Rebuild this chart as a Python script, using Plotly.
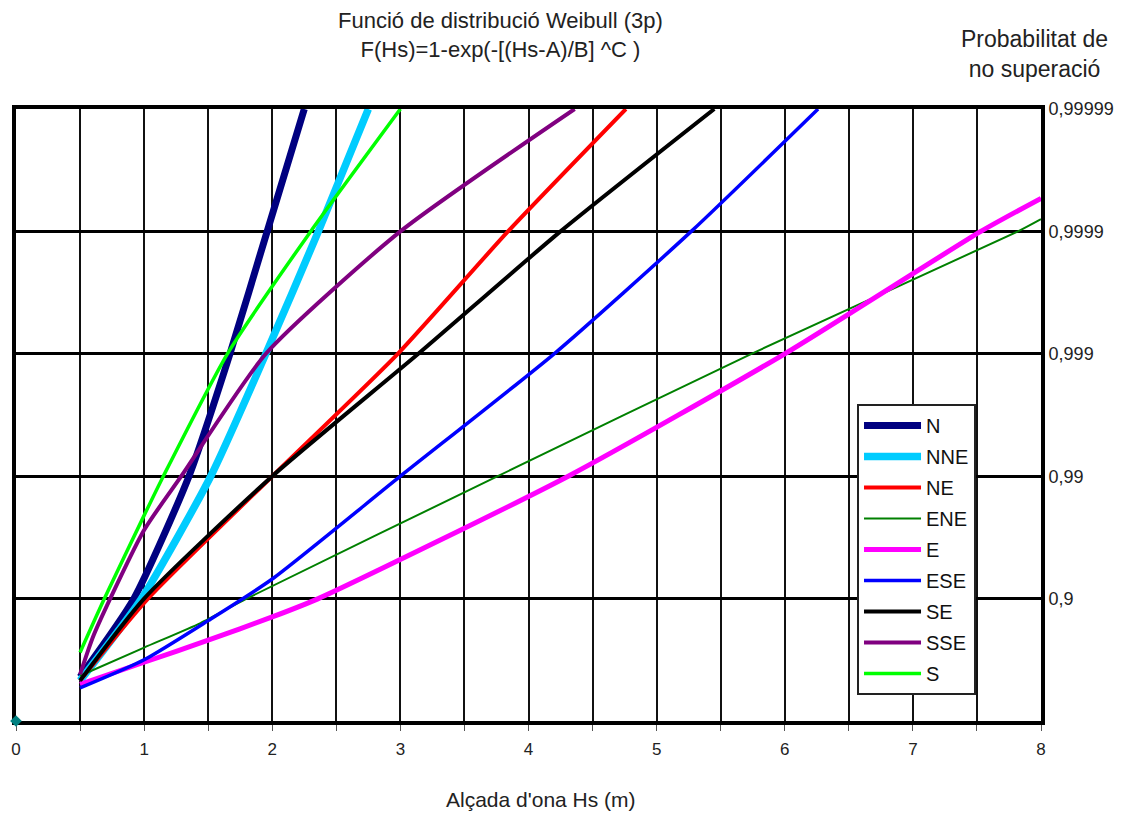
import numpy as np
import plotly.graph_objects as go

# Significant wave height Hs (m) per direction.
# Levels are in "decades" of non-exceedance: level = -log10(1 - F)
names = ["N", "NNE", "NE", "ENE", "E", "ESE", "SE", "SSE", "S"]
colors = ["#000080", "#00CCFF", "#FF0000", "#008000", "#FF00FF", "#0000FF", "#000000", "#800080", "#00FF00"]
widths = [7, 7.5, 4, 2, 5, 3.5, 4, 4, 3.5]

hs_N = [0.5, 0.92, 1.35, 1.67, 1.96, 2.25]
lv_N = [0.36, 1.0, 2.0, 3.0, 4.0, 5.0]
hs_NNE = [0.5, 0.98, 1.52, 1.95, 2.36, 2.75]
lv_NNE = [0.33, 1.0, 2.0, 3.0, 4.0, 5.0]
hs_NE = [0.5, 1.03, 2.0, 2.98, 3.84, 4.76]
lv_NE = [0.33, 1.0, 2.0, 3.0, 4.0, 5.0]
hs_ENE = [0.5, 1.0, 1.44, 1.8, 3.76, 5.74, 7.82, 8.0]
lv_ENE = [0.37, 0.6, 0.8, 1.0, 2.0, 3.0, 4.0, 4.1]
hs_E = [0.5, 1.0, 1.5, 2.0, 2.36, 4.31, 6.0, 7.53, 8.0]
lv_E = [0.3, 0.48, 0.66, 0.85, 1.0, 2.0, 3.0, 4.0, 4.27]
hs_ESE = [0.5, 1.0, 1.5, 2.0, 3.0, 4.2, 5.27, 6.26]
lv_ESE = [0.27, 0.5, 0.82, 1.16, 2.0, 3.0, 4.0, 5.0]
hs_SE = [0.5, 1.0, 2.0, 3.14, 4.25, 5.45]
lv_SE = [0.33, 1.0, 2.0, 3.0, 4.0, 5.0]
hs_SSE = [0.5, 0.61, 1.0, 1.29, 1.95, 3.0, 4.36]
lv_SSE = [0.38, 0.71, 1.56, 2.0, 3.0, 4.0, 5.0]
hs_S = [0.5, 0.69, 1.0, 1.15, 1.65, 2.3, 3.0]
lv_S = [0.56, 1.0, 1.68, 2.0, 3.0, 4.0, 5.0]

hs_all = [hs_N, hs_NNE, hs_NE, hs_ENE, hs_E, hs_ESE, hs_SE, hs_SSE, hs_S]
lv_all = [lv_N, lv_NNE, lv_NE, lv_ENE, lv_E, lv_ESE, lv_SE, lv_SSE, lv_S]

x_ticks = [0, 0.5, 1, 1.5, 2, 2.5, 3, 3.5, 4, 4.5, 5, 5.5, 6, 6.5, 7, 7.5, 8]
x_ticktext = ["0", "", "1", "", "2", "", "3", "", "4", "", "5", "", "6", "", "7", "", "8"]
y_ticks = [1, 2, 3, 4, 5]
y_ticktext = ["0,9", "0,99", "0,999", "0,9999", "0,99999"]

FONT = "Liberation Sans, Arial, sans-serif"
TXT = "#222222"

fig = go.Figure()
for i, n in enumerate(names):
    fig.add_trace(go.Scatter(
        x=hs_all[i], y=lv_all[i], mode="lines", name=n,
        line=dict(color=colors[i], width=widths[i], shape="spline", smoothing=0.6),
        legendgroup=n,
    ))

# origin marker
fig.add_trace(go.Scatter(x=[0], y=[0], mode="markers", showlegend=False,
                         marker=dict(color="#008080", size=9, symbol="diamond"),
                         cliponaxis=False))

fig.update_layout(
    width=1116, height=806,
    margin=dict(l=8, r=83, t=101, b=93, autoexpand=False),
    paper_bgcolor="white", plot_bgcolor="white",
    font=dict(family=FONT, color=TXT, size=14),
    showlegend=True,
    legend=dict(x=0.8205, y=0.518, xanchor="left", yanchor="top",
                bgcolor="white", bordercolor="#222222", borderwidth=2,
                font=dict(size=20, color="#111111"),
                traceorder="grouped", tracegroupgap=2, itemwidth=57),
    xaxis=dict(range=[0, 8], tickvals=x_ticks, ticktext=x_ticktext,
               showgrid=True, gridcolor="#111111", gridwidth=1.5,
               showline=True, linecolor="#000000", linewidth=4, mirror=True,
               ticks="outside", ticklen=6, tickcolor="#555555", tickwidth=1,
               ticklabelstandoff=4, automargin=False, layer="below traces",
               tickfont=dict(size=17, color=TXT), zeroline=False),
    yaxis=dict(range=[0, 5], tickvals=y_ticks, ticktext=y_ticktext, side="right",
               showgrid=True, gridcolor="#000000", gridwidth=3,
               showline=True, linecolor="#000000", linewidth=4, mirror=True,
               ticks="", ticklabelstandoff=0, automargin=False, layer="below traces",
               tickfont=dict(size=18, color=TXT), zeroline=False),
    annotations=[
        dict(text="Funció de distribució Weibull (3p)<br>F(Hs)=1-exp(-[(Hs-A)/B] ^C )",
             x=0.473, y=1.1217, xref="paper", yref="paper", showarrow=False,
             xanchor="center", yanchor="middle", font=dict(size=22, color=TXT)),
        dict(text="Probabilitat de<br>no superació",
             x=0.994, y=1.0899, xref="paper", yref="paper", showarrow=False,
             xanchor="center", yanchor="middle", font=dict(size=23, color=TXT)),
        dict(text="Alçada d'ona Hs (m)",
             x=0.512, y=-0.128, xref="paper", yref="paper", showarrow=False,
             xanchor="center", yanchor="middle", font=dict(size=21, color=TXT)),
    ],
)

fig.write_html("out.html")
